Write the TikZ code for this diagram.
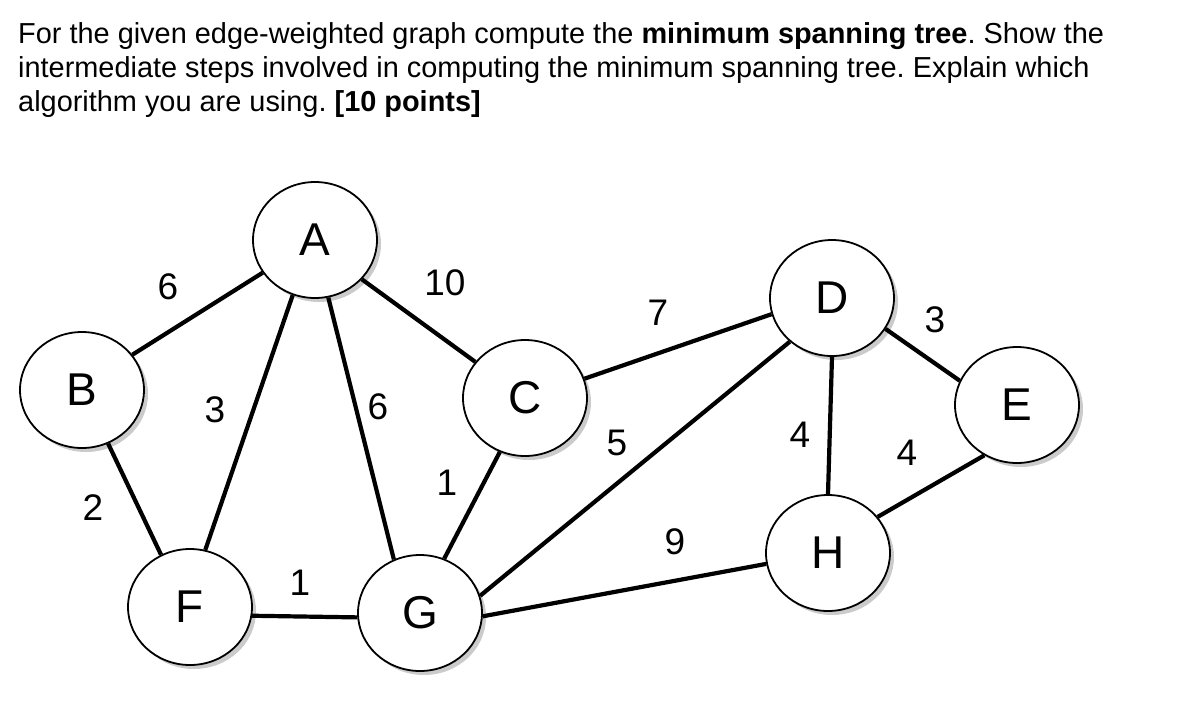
\documentclass[tikz,border=0pt]{standalone}
\usepackage{fontspec}
\setmainfont{Liberation Sans}
\usetikzlibrary{shapes.geometric,shadows}
\frenchspacing

\begin{document}
\begin{tikzpicture}[x=1pt,y=-1pt,
      vertex/.style={ellipse,draw,line width=1.8pt,fill=white,
        minimum width=124pt,minimum height=116pt,inner sep=0pt,
        font=\fontsize{46}{46}\selectfont,
        drop shadow={shadow xshift=4pt,shadow yshift=-4pt,fill=black!45,opacity=0.45}},
      weight/.style={inner sep=0pt,font=\fontsize{37}{37}\selectfont},
      edge/.style={line width=4.2pt}]
    \useasboundingbox (0,0) rectangle (1187,705);
    \node[anchor=north west,align=left,inner sep=0pt,
      font=\fontsize{28.9}{34}\selectfont] (task) at (18,22)
      {For the given edge-weighted graph compute the \textbf{minimum spanning tree}. Show the\\
       intermediate steps involved in computing the minimum spanning tree. Explain which\\
       algorithm you are using. \textbf{[10 points]}};
    % vertices
    \node[vertex] (A) at (315,240) {A};
    \node[vertex] (B) at (82,390) {B};
    \node[vertex] (C) at (525,398) {C};
    \node[vertex] (D) at (832,298) {D};
    \node[vertex] (E) at (1017,405) {E};
    \node[vertex] (F) at (190,607) {F};
    \node[vertex] (G) at (420,613) {G};
    \node[vertex] (H) at (828,553) {H};
    % edges
    \draw[edge] (A.212) -- (B.35);
    \draw[edge] (A.248) -- (F.75);
    \draw[edge] (A.283) -- (G.116);
    \draw[edge] (A.-40) -- (C.144);
    \draw[edge] (B.296) -- (F.119);
    \draw[edge] (F.352) -- (G.184);
    \draw[edge] (C.245) -- (G.66);
    \draw[edge] (C.18) -- (D.195);
    \draw[edge] (G.16) -- (D.226);
    \draw[edge] (G.-3) -- (H.190);
    \draw[edge] (D.270) -- (H.90);
    \draw[edge] (D.330) -- (E.157);
    \draw[edge] (H.36) -- (E.237);
    % weights
    \node[weight] (wAB) at (168,287) {6};
    \node[weight] (wAF) at (215,410) {3};
    \node[weight] (wAG) at (378,407) {6};
    \node[weight] (wBF) at (93,508) {2};
    \node[weight] (wFG) at (300,583) {1};
    \node[weight] (wAC) at (445,283) {10};
    \node[weight] (wCD) at (658,313) {7};
    \node[weight] (wCG) at (447,483) {1};
    \node[weight] (wGD) at (617,443) {5};
    \node[weight] (wGH) at (675,542) {9};
    \node[weight] (wDH) at (800,435) {4};
    \node[weight] (wDE) at (935,320) {3};
    \node[weight] (wHE) at (907,453) {4};
\end{tikzpicture}
\end{document}
